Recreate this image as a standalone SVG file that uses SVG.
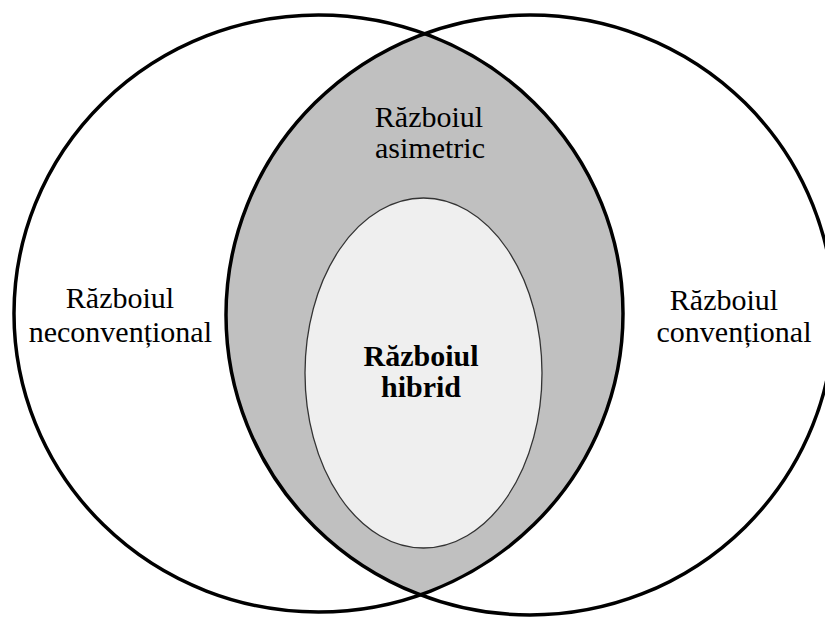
<svg xmlns="http://www.w3.org/2000/svg" width="825" height="619" viewBox="0 0 825 619">
<style>
.ring{fill:none;stroke:#000;stroke-width:3.5}
.lbl{font-family:"Liberation Serif","Times New Roman",serif;font-size:30px;fill:#000}
.b{font-weight:bold}
</style>
<defs>
<clipPath id="clipL"><ellipse cx="318.5" cy="313.5" rx="304.5" ry="298.5"/></clipPath>
</defs>
<rect width="825" height="619" fill="#fff"/>
<g id="asimetric">
<ellipse cx="530" cy="315" rx="304" ry="300" fill="#c0c0c0" clip-path="url(#clipL)"/>
<text class="lbl" x="429" y="127" text-anchor="middle">Războiul</text>
<text class="lbl" x="430" y="158" text-anchor="middle">asimetric</text>
</g>
<g id="hibrid">
<ellipse cx="423.5" cy="373" rx="118.5" ry="175" fill="#efefef" stroke="#333" stroke-width="1.3"/>
<text class="lbl b" x="421" y="366" text-anchor="middle">Războiul</text>
<text class="lbl b" x="421" y="397" text-anchor="middle">hibrid</text>
</g>
<g id="neconventional">
<ellipse class="ring" cx="318.5" cy="313.5" rx="304.5" ry="298.5"/>
<text class="lbl" x="120" y="308" text-anchor="middle">Războiul</text>
<text class="lbl" x="212" y="342" text-anchor="end">neconvențional</text>
</g>
<g id="conventional">
<ellipse class="ring" cx="530" cy="315" rx="304" ry="300"/>
<text class="lbl" x="724" y="310" text-anchor="middle">Războiul</text>
<text class="lbl" x="734" y="342" text-anchor="middle">convențional</text>
</g>
<g id="connectors"></g>
</svg>
